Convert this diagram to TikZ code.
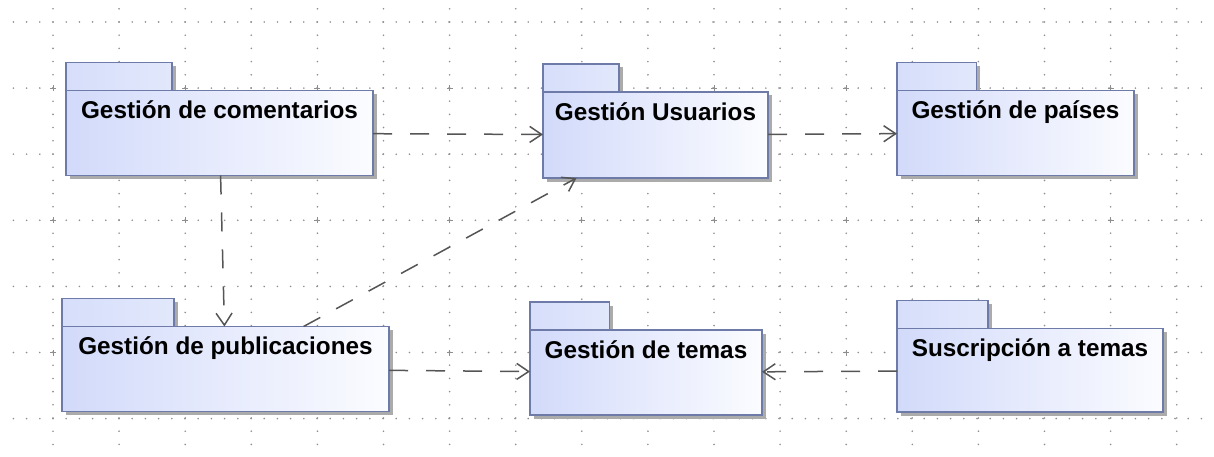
\documentclass[tikz,border=0pt]{standalone}
\usepackage{fontspec}
\setmainfont{Liberation Sans}
\usetikzlibrary{arrows.meta, shadows}
\definecolor{PkgLine}{HTML}{6E7BA8}
\definecolor{PkgDark}{HTML}{D2DAFA}
\definecolor{PkgLight}{HTML}{FBFCFF}
\definecolor{PkgTab}{HTML}{D6DEFA}
\definecolor{PkgShadow}{HTML}{ABABAB}
\definecolor{GridDot}{HTML}{8E8E8E}
\definecolor{DepLine}{HTML}{555555}
\tikzstyle{package} = [rectangle, anchor=north west, inner sep=0pt, outer sep=0pt, draw=PkgLine, line width=1.4pt, shading angle=75, left color=PkgDark, right color=PkgLight, drop shadow={shadow xshift=3.5pt, shadow yshift=-3.5pt, fill=PkgShadow, opacity=1}]
\tikzstyle{pkgtab} = [package, anchor=south west, minimum height=28pt, shading angle=90, left color=PkgTab, right color=PkgTab!70!white]
\tikzstyle{title} = [font=\fontsize{24.3}{28}\selectfont\bfseries, inner sep=0pt, anchor=north, yshift=-10pt]
\tikzstyle{arrow} = [DepLine, line width=1.5pt, dash pattern=on 19pt off 18pt, -{Straight Barb[length=12pt, width=16pt, line width=1.5pt]}]
\tikzstyle{dot} = [GridDot]

\begin{document}
\begin{tikzpicture}[x=1pt, y=-1pt]
\useasboundingbox (0,0) rectangle (1214,457);

% dotted grid
\foreach \gy in {22,88.1,...,420} {
  \foreach \gx in {13.4,26.6,...,1210} \fill [dot] (\gx,\gy) circle (0.9pt);
}
\foreach \gx in {53,119.1,...,1180} {
  \foreach \gy in {8.8,22,...,457} \fill [dot] (\gx,\gy) circle (0.9pt);
}
\foreach \gx in {53,185.2,...,1180} {
  \foreach \gy in {88.1,220.3,352.5}
    \draw [dot, line width=1pt] (\gx-3,\gy) -- (\gx+3,\gy) (\gx,\gy-3) -- (\gx,\gy+3);
}

% packages: tab first, then body
\node (comentarios-tab) [pkgtab, minimum width=106pt] at (66,90.5) {};
\node (comentarios) [package, minimum width=307pt, minimum height=85pt, label={[title]north:Gestión de comentarios}] at (66,90.5) {};

\node (usuarios-tab) [pkgtab, minimum width=76pt] at (543,92) {};
\node (usuarios) [package, minimum width=225pt, minimum height=86pt, label={[title]north:Gestión Usuarios}] at (543,92) {};

\node (paises-tab) [pkgtab, minimum width=79.5pt] at (897,90.5) {};
\node (paises) [package, minimum width=237pt, minimum height=85pt, label={[title]north:Gestión de países}] at (897,90.5) {};

\node (publicaciones-tab) [pkgtab, minimum width=112pt] at (62,326.5) {};
\node (publicaciones) [package, minimum width=327pt, minimum height=85pt, label={[title]north:Gestión de publicaciones}] at (62,326.5) {};

\node (temas-tab) [pkgtab, minimum width=79.5pt] at (530,330) {};
\node (temas) [package, minimum width=232pt, minimum height=85pt, label={[title]north:Gestión de temas}] at (530,330) {};

\node (suscripcion-tab) [pkgtab, minimum width=91pt] at (897,328.5) {};
\node (suscripcion) [package, minimum width=266pt, minimum height=83.5pt, label={[title]north:Suscripción a temas}] at (897,328.5) {};

% dependencies
\draw [arrow] (comentarios) -- (usuarios);
\draw [arrow] (usuarios) -- (paises);
\draw [arrow] (comentarios) -- (publicaciones);
\draw [arrow] (publicaciones) -- (usuarios);
\draw [arrow] (publicaciones) -- (temas);
\draw [arrow] (suscripcion) -- (temas);

\end{tikzpicture}
\end{document}
